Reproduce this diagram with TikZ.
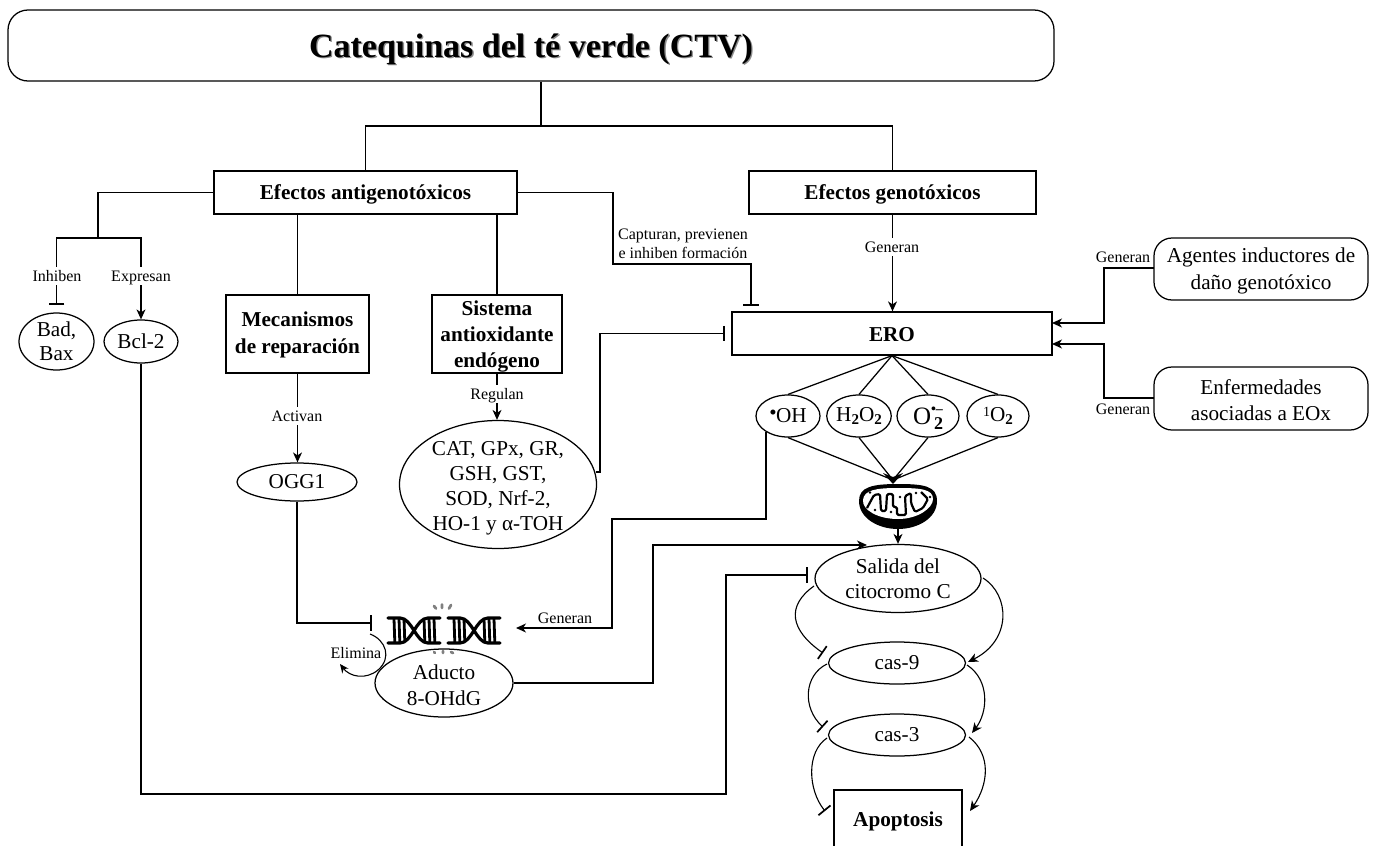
\documentclass[tikz,border=0pt]{standalone}
\usepackage{fontspec}
\setmainfont{Liberation Serif}
\usetikzlibrary{arrows.meta,shapes.geometric}
\newcommand{\bigf}[1]{\fontsize{21.2}{#1}\selectfont}
\newcommand{\upr}[1]{\rule{0pt}{#1pt}}
\tikzset{
 x=1pt,y=-1pt,
 wire/.style={line width=1.25pt},
 box/.style={draw,line width=1.25pt,rectangle,minimum width=#1,inner sep=0pt,align=center,font=\bigf{26}\bfseries},
 rbox/.style={draw,line width=1.25pt,rounded corners=18pt,inner sep=0pt,align=center,font=\bigf{26}},
 ell/.style={draw,line width=1.25pt,ellipse,inner sep=0pt,align=center,font=\bigf{25}},
 lab/.style={inner sep=1.5pt,align=center,font=\fontsize{16}{19}\selectfont},
 slab/.style={lab,text height=13pt,text depth=1.5pt},
 wlab/.style={slab,fill=white},
 arr/.style={-{Stealth[length=10pt,width=9pt,inset=3pt]}},
 tee/.style={-{Bar[width=15.5pt,line width=1.7pt]}},
 thin curve/.style={line width=1.1pt},
 dna/.style={line width=3.2pt,line cap=round},
 spark/.style={line width=2.8pt,line cap=round,color=black!50},
}
\newcommand{\dnaunit}[1]{%
 \begin{scope}[shift={(#1,0)}]
  \draw[dna] (0,618) -- (12,618) .. controls (24,618) and (28,643) .. (40,643) -- (52,643);
  \draw[dna] (0,643) -- (12,643) .. controls (24,643) and (28,618) .. (40,618) -- (52,618);
  \foreach \k in {6,11,16,36,41,46} \draw[line width=2.8pt] (\k,619) -- (\k+0.8,642);
 \end{scope}}
\begin{document}
\begin{tikzpicture}
\useasboundingbox (0,0) rectangle (1374,846);
% title
\node[draw,line width=1.25pt,rounded corners=20pt,minimum width=1046pt,minimum height=71pt,inner sep=0pt] (title) at (531,45.5) {};
\node[text=black!45,font=\fontsize{34}{40}\selectfont\bfseries] (titleshadow) at (532.3,50.5) {Catequinas del té verde (CTV)};
\node[font=\fontsize{34}{40}\selectfont\bfseries] (titletext) at (531,49) {Catequinas del té verde (CTV)};
% boxes
\node[box=303pt,minimum height=43pt,text height=17pt,text depth=4pt] (anti) at (365.5,192.5) {Efectos antigenotóxicos};
\node[box=287pt,minimum height=43pt,text height=17pt,text depth=4pt] (geno) at (892.5,192.5) {Efectos genotóxicos};
\node[box=143pt,minimum height=78pt,font=\bigf{27}\bfseries] (mec) at (297.5,334) {\upr{17}Mecanismos\\de reparación};
\node[box=130pt,minimum height=78pt] (sis) at (497,334) {\upr{19}Sistema\\antioxidante\\endógeno};
\node[box=320pt,minimum height=43pt,text height=18pt,text depth=3pt] (ero) at (892,333.5) {ERO};
\node[rbox,minimum width=214pt,minimum height=62pt,font=\bigf{27}] (age) at (1261,269) {\upr{18}Agentes inductores de\\daño genotóxico};
\node[rbox,minimum width=214pt,minimum height=63pt] (enf) at (1261,398.5) {\upr{19}Enfermedades\\asociadas a EOx};
% ellipses
\node[ell,minimum width=75pt,minimum height=57pt,font=\bigf{24}] (bad) at (56.5,341.5) {Bad,\\Bax};
\node[ell,minimum width=74pt,minimum height=43pt] (bcl) at (141,341.5) {Bcl-2};
\node[ell,minimum width=120pt,minimum height=38pt] (ogg) at (297,482) {OGG1};
\node[ell,minimum width=197pt,minimum height=128pt,inner ysep=-7pt] (cat) at (498,484.5) {\upr{21}CAT, GPx, GR,\\GSH, GST,\\SOD, Nrf-2,\\HO-1 y α-TOH};
\node[ell,minimum width=64pt,minimum height=42pt] (oh) at (788,416) {\smash{\raisebox{3pt}{\fontsize{21}{21}\selectfont\textbullet}}\kern-0.5pt OH};
\node[ell,minimum width=64pt,minimum height=42pt] (hoo) at (859,416) {H\raisebox{-3.5pt}{\fontsize{15}{15}\selectfont\bfseries 2}O\raisebox{-3.5pt}{\fontsize{15}{15}\selectfont\bfseries 2}};
\node[ell,minimum width=62pt,minimum height=42pt] (supr) at (928,416) {\fontsize{25}{25}\selectfont O\smash{\rlap{\raisebox{-5pt}{\fontsize{18}{18}\selectfont\bfseries\,2}}\raisebox{11pt}{\fontsize{14}{14}\selectfont\bfseries\textbullet\kern-0.3pt\textendash}}};
\node[ell,minimum width=62pt,minimum height=42pt] (sing) at (998,416) {\smash{\raisebox{5pt}{\fontsize{14}{14}\selectfont 1}}O\raisebox{-3.5pt}{\fontsize{15}{15}\selectfont\bfseries 2}};
\node[ell,minimum width=166pt,minimum height=68pt] (sal) at (898,578.5) {Salida del\\citocromo C};
\node[ell,minimum width=137pt,minimum height=42pt] (c9) at (897,663) {cas-9};
\node[ell,minimum width=137pt,minimum height=42pt] (c3) at (897,735) {cas-3};
\draw[spark] (435,653) -- (434,652) (443,653) -- (443,651) (451,652) -- (453,653);
\node[ell,minimum width=138pt,minimum height=68pt,font=\bigf{26}] (adu) at (444,683) {\upr{20}Aducto\\8-OHdG};
% apoptosis box, cut by the lower edge
\draw[wire] (834,846) -- (834,790) -- (962,790) -- (962,846);
\node[inner sep=0pt,font=\bigf{24}\bfseries] (apo) at (898,821) {Apoptosis};
% mitochondrion
\coordinate (mitoN) at (893,480);
\coordinate (mitoS) at (898,528);
\fill (859,501) .. controls (859,487) and (872,484) .. (898,484) .. controls (924,484) and (937,486) .. (937,501)
  .. controls (937,518) and (918,529) .. (898,529) .. controls (878,529) and (859,518) .. (859,501) -- cycle;
\fill[white] (863,500) .. controls (864,490) and (876,488) .. (898,488) .. controls (920,488) and (933,489) .. (933,499)
  .. controls (933,508) and (918,519) .. (898,519) .. controls (878,519) and (862,510) .. (863,500) -- cycle;
\draw[line width=2.2pt,line join=round,rounded corners=1.5pt] (867,508) -- (874,495) -- (880,494) -- (881,511) -- (886,511) -- (887,494) -- (893,494) -- (893,507) -- (897,507) -- (897,515) -- (906,515) -- (905,496) -- (911,493) -- (911,503) -- (915,512) -- (923,508) -- (928,499) -- (921,492);
\foreach \p in {(870,492.5),(916,493),(875,510),(891,512),(900,497),(930,497)} \fill \p circle (1.3pt);
% DNA
\dnaunit{388}
\dnaunit{448}
\coordinate (dnaW) at (372,623);
\coordinate (dnaE) at (516,628);
\draw[spark] (434,606) -- (436,608.5) (442,604.5) -- (442,608) (451,605) -- (449,608.5);
% trunk
\coordinate (trunk) at (541,126);
\draw[wire] (title.south -| trunk) -- (trunk);
\draw[wire] (anti.north) |- (trunk) -| (geno.north);
% left branch
\coordinate (leftbr) at (98,238);
\draw[wire] (anti.west) -| (leftbr);
\draw[wire,tee] (leftbr) -| (bad.north |- 0,305);
\draw[wire,arr] (leftbr) -| (bcl.north);
\node[wlab] (linh) at (57,276) {Inhiben};
\node[wlab] (lexp) at (141,276) {Expresan};
% antigenotoxic children
\draw[wire] (mec.north |- anti.south) -- (mec.north);
\draw[wire] (sis.north |- anti.south) -- (sis.north);
\draw[wire,arr] (mec.south) -- (mec.south |- ogg.north);
\node[wlab] (lact) at (297,416) {Activan};
\draw[wire,arr] (sis.south) -- (sis.south |- cat.north);
\node[wlab] (lreg) at (497,394) {Regulan};
\draw[wire,tee] (ogg.south) |- (dnaW);
% capture
\coordinate (capt) at (751,306);
\draw[wire,tee] (anti.east) -| (613,264) -| (capt);
\node[lab] (lcap) at (683,243.5) {Capturan, previenen\\e inhiben formación};
% geno -> ERO
\draw[wire,arr] (geno.south) -- (ero.north -| geno.south);
\node[wlab] (lgen1) at (892,247) {Generan};
% antioxidant system inhibits ERO
\coordinate (catE) at (596,472);
\coordinate (eroW) at (725,333.5);
\draw[wire,tee] (catE) -- (600,472) -- (600,333.5) -- (eroW);
% inducers
\coordinate (age1) at (1154,268);
\coordinate (enf1) at (1154,398);
\coordinate (ero1) at (1052,323);
\coordinate (ero2) at (1052,344);
\draw[wire,arr] (age1) -- (1104,268) -- (1104,323) -- (ero1);
\draw[wire,arr] (enf1) -- (1104,398) -- (1104,344) -- (ero2);
\node[slab] (lgen2) at (1123,257) {Generan};
\node[slab] (lgen3) at (1123,409) {Generan};
% fan
\foreach \n in {oh,hoo,supr,sing} \draw[wire] (ero.south) -- (\n.north);
\foreach \n in {oh,hoo,supr,sing} \draw[wire] (\n.south) -- (mitoN);
\fill (883,473) -- (893,477) -- (903,473) -- (893,484) -- cycle;
\draw[wire,arr] (mitoS) -- (mitoS |- sal.north);
% OH -> DNA
\coordinate (ohS) at (766,432);
\draw[wire,arr] (ohS) -- (766,519) -- (612,519) -- (612,628) -- (dnaE);
\node[slab] (lgen4) at (565,618) {Generan};
% aducto -> salida
\coordinate (salN) at (867,545);
\draw[wire,arr] (adu.east) -| (653,545) -- (salN);
% bcl-2 -> salida
\coordinate (salW) at (808,575);
\draw[wire,tee] (bcl.south) -- (141,794) -- (726,794) -- (726,575) -- (salW);
% Elimina
\coordinate (elim) at (340,664);
\draw[thin curve,-{Stealth[length=9pt,width=8pt,inset=3pt]}] (370,634) .. controls (386,640) and (392,658) .. (378,670) .. controls (366,680) and (350,677) .. (elim);
\node[slab,inner sep=0pt] (lel) at (356,653) {Elimina};
% cascade
\coordinate (c9w) at (823,653);
\coordinate (c3w) at (823,727);
\coordinate (apw) at (825,811);
\draw[thin curve,tee] (814,586) .. controls (786,606) and (790,630) .. (c9w);
\draw[thin curve,arr] (983,578) .. controls (1010,595) and (1012,640) .. (968,662);
\draw[thin curve,tee] (827,664) .. controls (804,675) and (802,708) .. (c3w);
\draw[thin curve,arr] (967,665) .. controls (990,680) and (988,712) .. (972,733);
\draw[thin curve,tee] (827,738) .. controls (806,752) and (808,790) .. (apw);
\draw[thin curve,arr] (969,737) .. controls (992,755) and (988,785) .. (970,811);
\end{tikzpicture}
\end{document}
